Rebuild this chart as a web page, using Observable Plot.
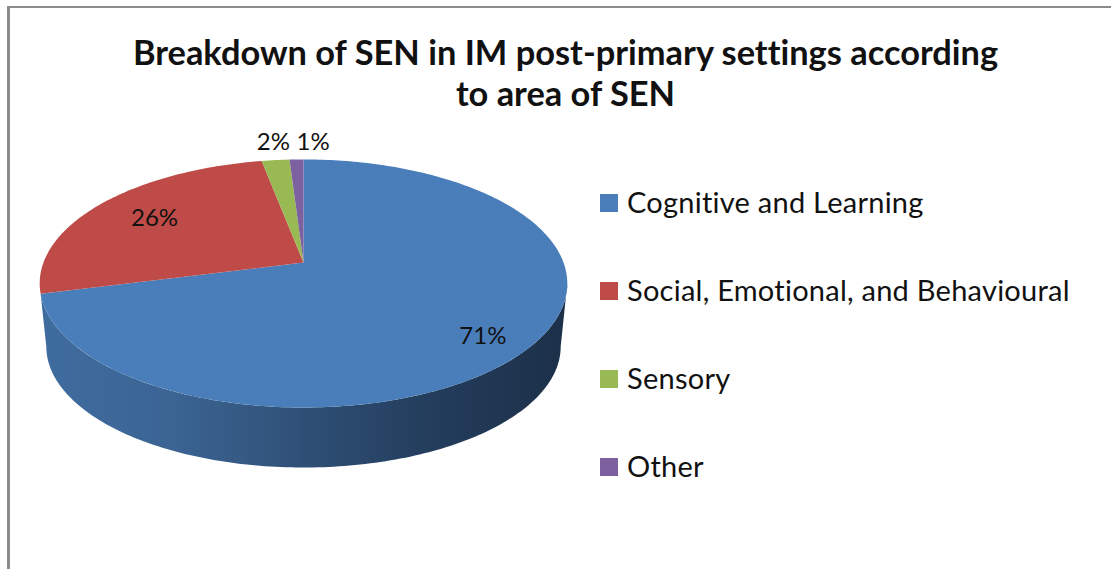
<!DOCTYPE html>
<html>
<head>
<meta charset="utf-8">
<script src="https://cdn.jsdelivr.net/npm/d3@7"></script>
<script src="https://cdn.jsdelivr.net/npm/@observablehq/plot@0.6"></script>
<style>
  html, body { margin: 0; padding: 0; background: #fff; }
  #page { position: relative; width: 1111px; height: 569px; overflow: hidden; font-family: Lato, "Open Sans", sans-serif; color: #111; font-variant-ligatures: none; }
  #frame { position: absolute; left: 7px; top: 6px; right: -4px; bottom: -4px; border: 2px solid #8b8b8b; border-left-width: 3px; box-sizing: border-box; }
  #chart { position: absolute; left: 0; top: 0; }
  #chart svg { display: block; background: transparent; }
  #title { position: absolute; left: 0; top: 31px; width: 1131px; text-align: center; font-size: 34.4px; font-weight: 700; line-height: 41px; margin: 0; }
  .item { position: absolute; left: 600px; white-space: nowrap; font-size: 29px; letter-spacing: 0.25px; line-height: 36px; height: 36px; }
  .swatch { position: absolute; left: 0; top: 9.5px; width: 18px; height: 18px; }
  .name { position: absolute; left: 27px; top: 0; }
</style>
</head>
<body>
<div id="page">
  <div id="frame"></div>
  <div id="chart"></div>
  <h1 id="title"></h1>
</div>
<script>
const titleLines = ["Breakdown of SEN in IM post-primary settings according", "to area of SEN"];
const categories = ["Cognitive and Learning", "Social, Emotional, and Behavioural", "Sensory", "Other"];
const shares = [71, 26, 2, 1];
const colors = ["#4a7ebb", "#be4b48", "#98b954", "#7d60a0"];
const swatchTops = [184, 272, 360, 448];

// Tilted-disc view of the pie: a share of the circle maps to a point on the disc.
const tilt = 0.169, wallScale = 0.975, wallDrop = 0.528;
const toRad = d => d * Math.PI / 180;
const disc = (deg, r = 1) => {
  const a = toRad(deg), k = 1 + tilt * r * Math.cos(a);
  return {x: r * Math.sin(a) / k, y: r * Math.cos(a) / k};
};
const wallPoint = deg => {
  const p = disc(deg);
  return {x: p.x * wallScale, y: p.y * wallScale - wallDrop};
};

// Slices from the shares
let run = 0;
const slices = categories.map((name, i) => {
  const start = run;
  run += shares[i];
  return {name, share: shares[i], start: start * 3.6, end: run * 3.6};
});
const slicePts = slices.flatMap(s => {
  const pts = [{...disc(0, 0), name: s.name}];
  const n = Math.max(2, Math.ceil(s.end - s.start));
  for (let k = 0; k <= n; ++k) pts.push({...disc(s.start + (s.end - s.start) * k / n), name: s.name});
  return pts;
});

// Front wall of the pie, between the two side extremes of the disc
const rightEdge = 180 - Math.acos(tilt) * 180 / Math.PI;
const leftEdge = 360 - rightEdge;
const wallPts = [];
for (let d = rightEdge; d <= slices[0].end; d += 1) wallPts.push(disc(d));
wallPts.push(disc(slices[0].end));
for (let d = leftEdge; d >= rightEdge; d -= 1) wallPts.push(wallPoint(d));
wallPts.push(wallPoint(rightEdge));

// Data labels, placed along each slice's middle ray
const labelSpots = [{r: 0.8, dx: -4, dy: 8}, {r: 0.75, dx: 2, dy: 0}, {r: 1.19, dx: 3, dy: 2}, {r: 1.19, dx: 18, dy: 2}];

const gradient = () => {
  const defs = d3.create("svg:defs");
  const g = defs.append("linearGradient").attr("id", "wallShade").attr("x1", 0).attr("x2", 1).attr("y1", 0).attr("y2", 0);
  [[0, "#3f6c9f"], [0.25, "#3b6493"], [0.5, "#2f5076"], [0.72, "#243e5e"], [1, "#1c3048"]]
    .forEach(([o, c]) => g.append("stop").attr("offset", o).attr("stop-color", c));
  return defs.node();
};

const plot = Plot.plot({
  width: 1111,
  height: 569,
  margin: 0,
  style: {background: "transparent", overflow: "visible"},
  x: {domain: [-1, 1], range: [43, 563], axis: null},
  y: {domain: [-1, 1], range: [382.5, 141.5], axis: null},
  color: {domain: categories, range: colors},
  marks: [
    gradient,
    Plot.line(wallPts, {x: "x", y: "y", fill: "url(#wallShade)", stroke: "none"}),
    Plot.line(slicePts, {x: "x", y: "y", z: "name", fill: "name", stroke: "none", curve: "linear"}),
    ...slices.map((s, i) => {
      const mid = (s.start + s.end) / 2, spot = labelSpots[i];
      const p = disc(mid);
      return Plot.text([s], {
        x: () => p.x * spot.r, y: () => p.y * spot.r,
        text: d => `${d.share}%`,
        dx: spot.dx, dy: spot.dy,
        fontSize: 24, fontFamily: "Lato, 'Open Sans', sans-serif", fill: "#111"
      });
    })
  ]
});
document.getElementById("chart").append(plot);

const title = document.getElementById("title");
titleLines.forEach((t, i) => {
  if (i) title.append(document.createElement("br"));
  title.append(t);
});

const color = plot.scale("color");
const page = document.getElementById("page");
categories.forEach((name, i) => {
  const item = d3.select(page).append("div").attr("class", "item").style("top", swatchTops[i] + "px");
  item.append("div").attr("class", "swatch").style("background", color.apply(name));
  item.append("div").attr("class", "name").text(name);
});
</script>
</body>
</html>
